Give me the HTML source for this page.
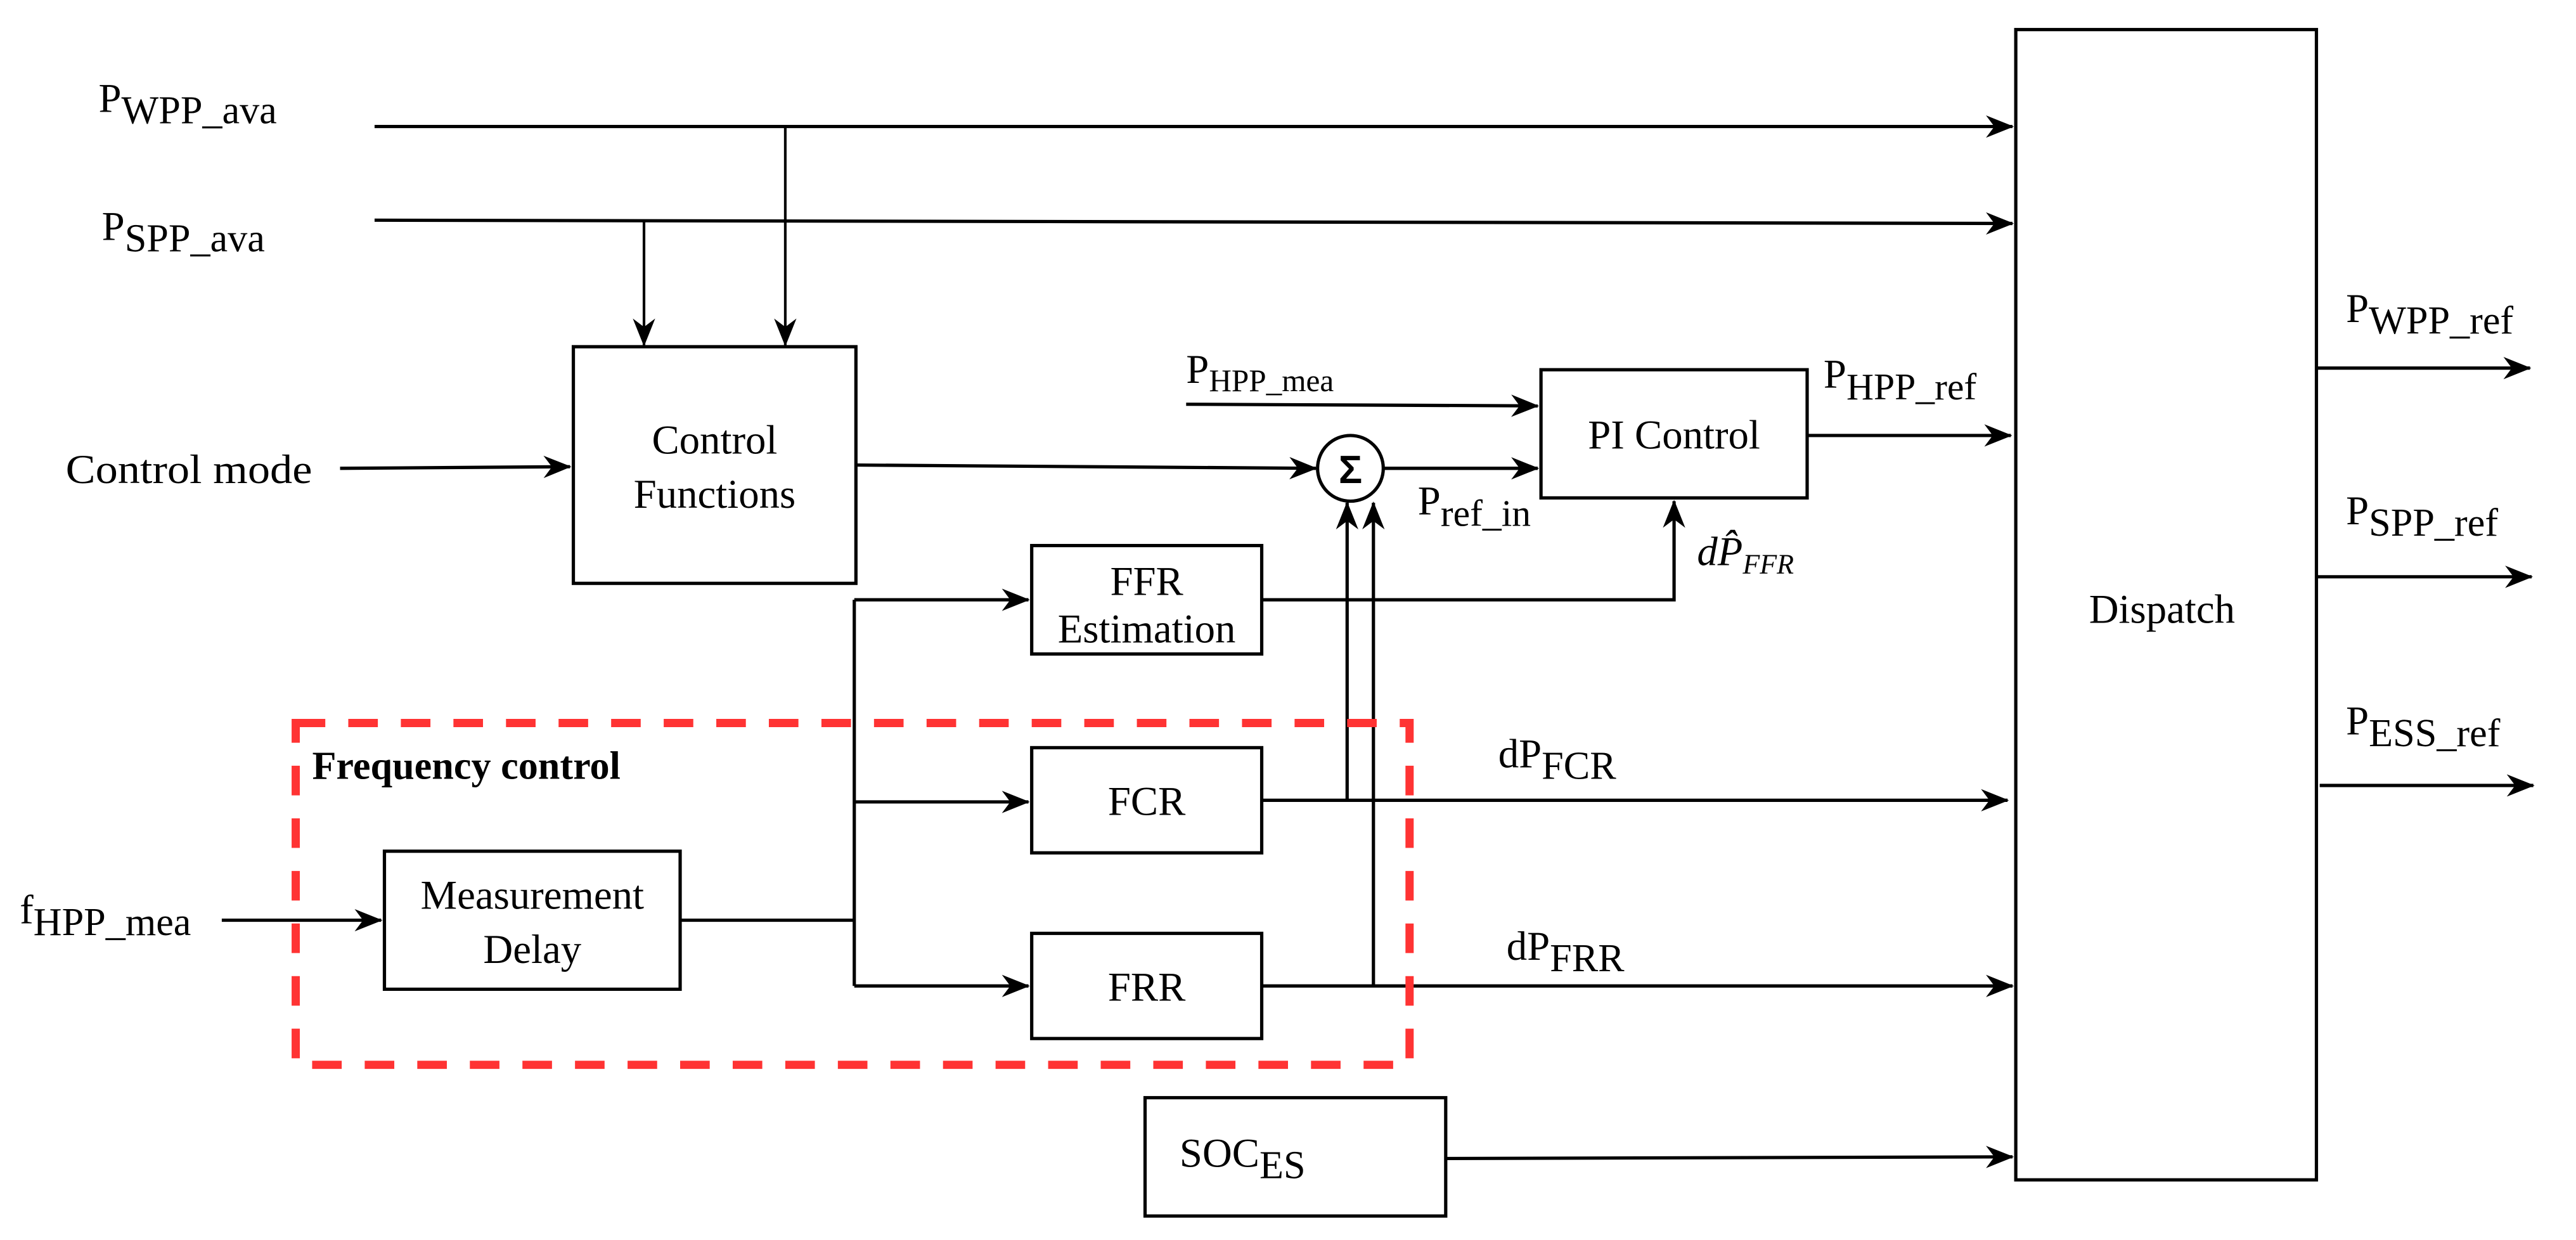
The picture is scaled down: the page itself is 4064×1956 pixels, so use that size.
<!DOCTYPE html>
<html><head><meta charset="utf-8"><style>
html,body{margin:0;padding:0;background:#fff;}
svg{display:block;}
svg text, svg tspan{font-family:"Liberation Serif","Times New Roman",serif !important;}
svg text.s{font-family:"Liberation Sans",sans-serif !important;}
</style></head><body>
<svg width="4064" height="1956" viewBox="0 0 1568 754.6" preserveAspectRatio="none" xmlns="http://www.w3.org/2000/svg">
<defs>
<marker id="a" viewBox="0 0 20 16" refX="19" refY="8" markerWidth="17" markerHeight="14" markerUnits="userSpaceOnUse" orient="auto">
<path d="M0,0 L20,8 L0,16 L6,8 Z" fill="#000"/>
</marker>
</defs>
<g stroke="#000" stroke-width="2" fill="none">
<line x1="228" y1="77" x2="1225" y2="77" marker-end="url(#a)"/>
<line x1="228" y1="134" x2="1225" y2="136" marker-end="url(#a)"/>
<line x1="478" y1="77" x2="478" y2="210" marker-end="url(#a)" stroke-width="1.6"/>
<line x1="392" y1="134" x2="392" y2="210" marker-end="url(#a)" stroke-width="1.6"/>
<line x1="207" y1="285" x2="347" y2="284" marker-end="url(#a)"/>
<rect x="349" y="211" width="172" height="144"/>
<line x1="521" y1="283" x2="801" y2="285" marker-end="url(#a)"/>
<circle cx="822" cy="285" r="20"/>
<line x1="722" y1="246" x2="936" y2="247" marker-end="url(#a)"/>
<line x1="842" y1="285" x2="936" y2="285" marker-end="url(#a)"/>
<rect x="938" y="225" width="162" height="78"/>
<line x1="1100" y1="265" x2="1224" y2="265" marker-end="url(#a)"/>
<polyline points="768,365 1019,365 1019,305" marker-end="url(#a)"/>
<rect x="628" y="332" width="140" height="66"/>
<rect x="628" y="455" width="140" height="64"/>
<rect x="628" y="568" width="140" height="64"/>
<line x1="520" y1="365" x2="520" y2="600"/>
<line x1="520" y1="365" x2="626" y2="365" marker-end="url(#a)"/>
<line x1="520" y1="488" x2="626" y2="488" marker-end="url(#a)"/>
<line x1="520" y1="600" x2="626" y2="600" marker-end="url(#a)"/>
<line x1="414" y1="560" x2="520" y2="560"/>
<rect x="234" y="518" width="180" height="84"/>
<line x1="135" y1="560" x2="232" y2="560" marker-end="url(#a)"/>
<line x1="768" y1="487" x2="1222" y2="487" marker-end="url(#a)"/>
<line x1="820" y1="487" x2="820" y2="306" marker-end="url(#a)"/>
<line x1="768" y1="600" x2="1225" y2="600" marker-end="url(#a)"/>
<line x1="836" y1="600" x2="836" y2="306" marker-end="url(#a)"/>
<rect x="697" y="668" width="183" height="72"/>
<line x1="880" y1="705" x2="1225" y2="704" marker-end="url(#a)"/>
<rect x="1227" y="18" width="183" height="700"/>
<line x1="1410" y1="224" x2="1540" y2="224" marker-end="url(#a)"/>
<line x1="1410" y1="351" x2="1541" y2="351" marker-end="url(#a)"/>
<line x1="1412" y1="478" x2="1542" y2="478" marker-end="url(#a)"/>
</g>
<rect x="180" y="440" width="678" height="208" fill="none" stroke="#f33" stroke-width="5" stroke-dasharray="18 14"/>
<g font-size="25" fill="#000">
<text x="60" y="68">P<tspan font-size="24" dy="7">WPP_ava</tspan></text>
<text x="62" y="146">P<tspan font-size="24" dy="7">SPP_ava</tspan></text>
<text x="40" y="294" textLength="150" lengthAdjust="spacingAndGlyphs">Control mode</text>
<text x="435" y="276" text-anchor="middle">Control</text>
<text x="435" y="309" text-anchor="middle">Functions</text>
<text class="s" x="822" y="294" text-anchor="middle" font-weight="bold" font-size="24">Σ</text>
<text x="722" y="233">P<tspan font-size="19" dy="5">HPP_mea</tspan></text>
<text x="1019" y="273" text-anchor="middle">PI  Control</text>
<text x="863" y="313">P<tspan font-size="23" dy="7">ref_in</tspan></text>
<text x="1110" y="236">P<tspan font-size="23" dy="7">HPP_ref</tspan></text>
<text x="1033" y="344" font-style="italic">dP̂<tspan font-size="17" dy="5">FFR</tspan></text>
<text x="698" y="362" text-anchor="middle">FFR</text>
<text x="698" y="391" text-anchor="middle">Estimation</text>
<text x="698" y="496" text-anchor="middle">FCR</text>
<text x="698" y="609" text-anchor="middle">FRR</text>
<text x="324" y="553" text-anchor="middle">Measurement</text>
<text x="324" y="586" text-anchor="middle">Delay</text>
<text x="12" y="562">f<tspan font-size="24" dy="7">HPP_mea</tspan></text>
<text x="190" y="474" font-weight="bold" font-size="24">Frequency control</text>
<text x="912" y="467">dP<tspan font-size="24" dy="7">FCR</tspan></text>
<text x="917" y="584">dP<tspan font-size="24" dy="7">FRR</tspan></text>
<text x="718" y="710">SOC<tspan font-size="24" dy="7">ES</tspan></text>
<text x="1316" y="379" text-anchor="middle">Dispatch</text>
<text x="1428" y="196">P<tspan font-size="24" dy="7">WPP_ref</tspan></text>
<text x="1428" y="319">P<tspan font-size="24" dy="7">SPP_ref</tspan></text>
<text x="1428" y="447">P<tspan font-size="24" dy="7">ESS_ref</tspan></text>
</g>
</svg>
</body></html>
